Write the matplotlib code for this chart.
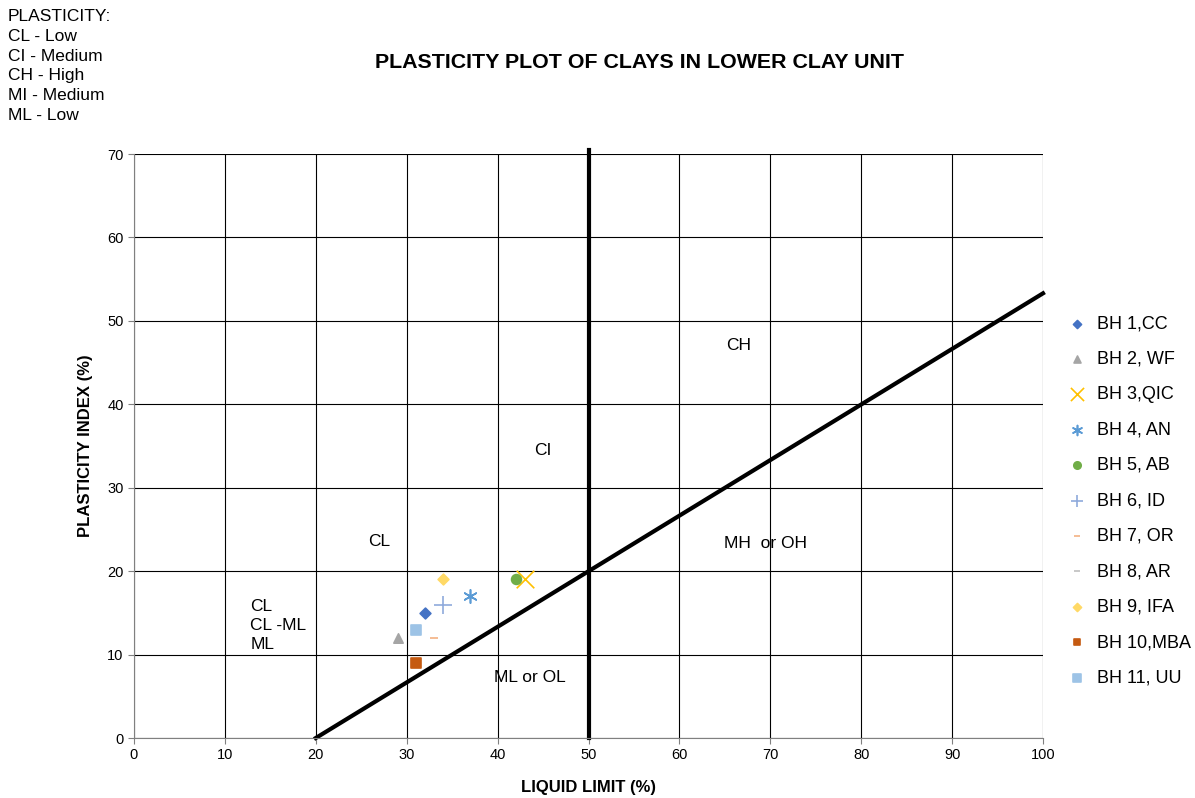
import matplotlib.pyplot as plt
import numpy as np

plt.rcParams['font.family'] = ['Liberation Sans', 'DejaVu Sans']

# Dados das sondagens (LL, IP)
labels = ['BH 1,CC', 'BH 2, WF', 'BH 3,QIC', 'BH 4, AN', 'BH 5, AB', 'BH 6, ID',
          'BH 7, OR', 'BH 8, AR', 'BH 9, IFA', 'BH 10,MBA', 'BH 11, UU']
liquid_limit = [32, 29, 43, 37, 42, 34, 33, np.nan, 34, 31, 31]
plasticity_index = [15, 12, 19, 17, 19, 16, 12, np.nan, 19, 9, 13]
markers = ['D', '^', 'x', (6, 2, 0), 'o', '+', '_', '_', 'D', 's', 's']
colors = ['#4472c4', '#a5a5a5', '#ffc000', '#5b9bd5', '#70ad47', '#8faadc',
          '#f4b183', '#bfbfbf', '#ffd966', '#c55a11', '#9dc3e6']
sizes = [30, 45, 160, 90, 50, 150, 30, 30, 30, 45, 55]

# Linha A
a_line_x = [20, 100]
a_line_y = [0, 53.3]

fig = plt.figure(figsize=(11.95, 7.98), dpi=100)
ax = fig.add_axes([134 / 1195, 60 / 798, 909 / 1195, 584 / 798])

ax.set_xlim(0, 100)
ax.set_ylim(0, 70)
ax.set_xticks(np.arange(0, 101, 10))
ax.set_yticks(np.arange(0, 71, 10))
ax.grid(True, color='black', linewidth=0.8)
ax.set_axisbelow(True)
for s in ['top', 'right']:
    ax.spines[s].set_visible(False)
ax.spines['left'].set_color('#808080')
ax.spines['bottom'].set_color('#808080')
ax.tick_params(length=4, labelsize=10.5, color='#808080')

ax.plot(a_line_x, a_line_y, color='black', linewidth=3, clip_on=False)
ax.plot([50, 50], [0, 70.5], color='black', linewidth=3, clip_on=False)

for lab, x, y, m, c, s in zip(labels, liquid_limit, plasticity_index, markers, colors, sizes):
    ax.scatter([x], [y], marker=m, color=c, s=s, label=lab, linewidths=1.2, zorder=3)

fs = 12.5
ax.text(66.5, 47, 'CH', fontsize=fs, ha='center', va='center')
ax.text(45, 34.5, 'CI', fontsize=fs, ha='center', va='center')
ax.text(27, 23.5, 'CL', fontsize=fs, ha='center', va='center')
ax.text(69.5, 23.3, 'MH  or OH', fontsize=fs, ha='center', va='center')
ax.text(43.5, 7.3, 'ML or OL', fontsize=fs, ha='center', va='center')
ax.text(12.8, 10.3, 'CL\nCL -ML\nML', fontsize=fs, ha='left', va='bottom', linespacing=1.32)

ax.set_xlabel('LIQUID LIMIT (%)', fontsize=12, fontweight='bold', labelpad=13)
ax.set_ylabel('PLASTICITY INDEX (%)', fontsize=12, fontweight='bold', labelpad=10)

fig.text(639 / 1195, 1 - 62 / 798, 'PLASTICITY PLOT OF CLAYS IN LOWER CLAY UNIT',
         fontsize=15.4, fontweight='bold', ha='center', va='center')
fig.text(8 / 1195, 1 - 9 / 798, 'PLASTICITY:\nCL - Low\nCI - Medium\nCH - High\nMI - Medium\nML - Low',
         fontsize=fs, ha='left', va='top', linespacing=1.4)

ax.legend(loc='center left', bbox_to_anchor=(1.008, 0.406), frameon=False, fontsize=13,
          labelspacing=1.02, handletextpad=0.5, handlelength=1.2, scatterpoints=1,
          markerscale=0.75)

fig.savefig('out.png', dpi=100)
